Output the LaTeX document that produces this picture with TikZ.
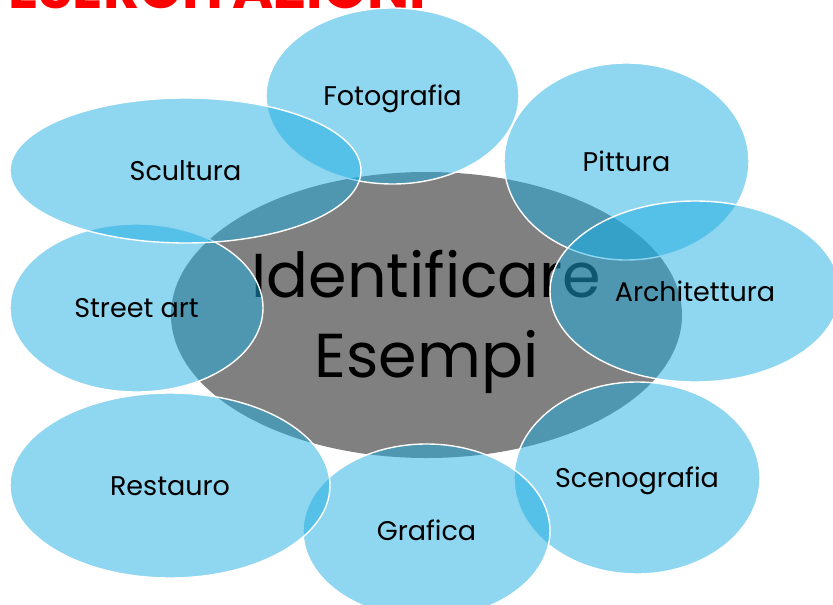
\documentclass[tikz,border=0pt]{standalone}
\usepackage{fontspec}
\setmainfont{Poppins}
\usetikzlibrary{shapes.geometric}
\definecolor{bubblefill}{RGB}{31,173,225}
\definecolor{centerfill}{RGB}{128,128,128}
\definecolor{titlered}{RGB}{255,0,0}
\tikzset{
  bubble/.style={ellipse, draw=white, line width=1.4pt, fill=bubblefill,
    fill opacity=0.5, text opacity=1, draw opacity=1, inner sep=0pt,
    font=\fontsize{27}{31}\selectfont, text=black,
    text height=19pt, text depth=0pt},
  hub/.style={ellipse, fill=centerfill, inner sep=0pt},
  hubtext/.style={inner sep=0pt, text=black, align=center,
    font=\fontsize{62}{80}\selectfont}
}
\begin{document}
\begin{tikzpicture}[x=1pt,y=-1pt]
\useasboundingbox (0,0) rectangle (833,605);
\clip (0,0) rectangle (833,605);
\node[anchor=base west, text=titlered, font=\bfseries\fontsize{56}{60}\selectfont, inner sep=0pt] (title) at (8,9) {ESERCITAZIONI};
\node[hub, minimum width=511pt, minimum height=286pt] (hub) at (426.5,315) {};
\node[hubtext] (hubtxt) at (426.5,322) {Identificare\\Esempi};
\node[bubble, minimum width=253pt, minimum height=176pt] (foto) at (392.5,96) {Fotografia};
\node[bubble, minimum width=245pt, minimum height=197pt] (pitt) at (626.5,161.5) {Pittura};
\node[bubble, minimum width=290pt, minimum height=181pt] (arch) at (695,291.5) {Architettura};
\node[bubble, minimum width=246pt, minimum height=192pt] (sceno) at (637,478) {Scenografia};
\node[bubble, minimum width=247pt, minimum height=174pt] (graf) at (426.5,531) {Grafica};
\node[bubble, minimum width=320pt, minimum height=185pt] (rest) at (170,485.5) {Restauro};
\node[bubble, minimum width=253pt, minimum height=168pt] (street) at (136.5,308) {Street art};
\node[bubble, minimum width=351pt, minimum height=145pt] (scul) at (185.5,170.5) {Scultura};
\end{tikzpicture}
\end{document}
